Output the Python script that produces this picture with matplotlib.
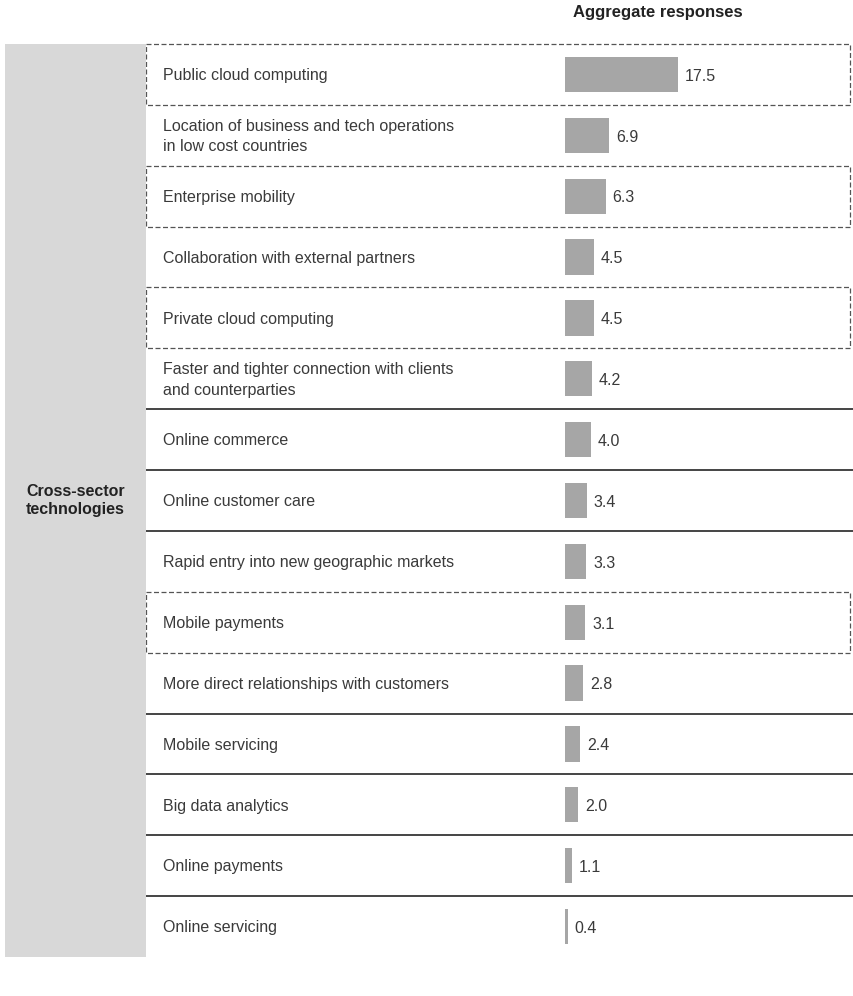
import matplotlib
matplotlib.use("Agg")
import matplotlib.pyplot as plt
import matplotlib.transforms as mtransforms
from matplotlib.patches import Rectangle

plt.rcParams['font.family'] = ['Liberation Sans', 'DejaVu Sans']

# data
categories = [
    "Public cloud computing",
    "Location of business and tech operations\nin low cost countries",
    "Enterprise mobility",
    "Collaboration with external partners",
    "Private cloud computing",
    "Faster and tighter connection with clients\nand counterparties",
    "Online commerce",
    "Online customer care",
    "Rapid entry into new geographic markets",
    "Mobile payments",
    "More direct relationships with customers",
    "Mobile servicing",
    "Big data analytics",
    "Online payments",
    "Online servicing",
]
values = [17.5, 6.9, 6.3, 4.5, 4.5, 4.2, 4.0, 3.4, 3.3, 3.1, 2.8, 2.4, 2.0, 1.1, 0.4]
highlighted = [0, 2, 4, 9]          # rows drawn inside dashed boxes
group_label = "Cross-sector\ntechnologies"
title = "Aggregate responses"

W, H = 854, 996
n = len(categories)

# layout (pixels)
top, bottom = 44, 957
panel_l, panel_r = 5, 146
bar_x0, right = 565, 850
px_per_unit = 6.44

fig = plt.figure(figsize=(W / 100, H / 100), dpi=100)
ax = fig.add_axes([bar_x0 / W, (H - bottom) / H, (right - bar_x0) / W, (bottom - top) / H])
ax.set_xlim(0, (right - bar_x0) / px_per_unit)
ax.set_ylim(n - 0.5, -0.5)
ax.axis('off')

trans = mtransforms.blended_transform_factory(fig.transFigure, ax.transData)

# grey group panel
fig.patches.append(Rectangle((panel_l / W, (H - bottom) / H), (panel_r - panel_l) / W,
                             (bottom - top) / H, transform=fig.transFigure,
                             facecolor='#d8d8d8', edgecolor='none', zorder=0))
fig.text((panel_l + panel_r) / 2 / W, 1 - ((top + bottom) / 2) / H, group_label,
         ha='center', va='center', fontsize=11.5, fontweight='bold', color='#222222',
         linespacing=1.25)

# solid separators between rows that are not next to a dashed box
for b in range(1, n):
    if (b - 1) in highlighted or b in highlighted or b in (2, 4):
        continue
    ax.plot([panel_r / W, 1], [b - 0.5, b - 0.5], transform=trans, color='#444444',
            lw=1.4, clip_on=False)

# dashed boxes
for i in highlighted:
    ax.add_patch(Rectangle((panel_r / W, i - 0.5), (right - panel_r) / W, 1.0,
                           transform=trans, fill=False, edgecolor='#555555',
                           lw=0.9, linestyle=(0, (4, 2)), clip_on=False))

# category labels
for i, c in enumerate(categories):
    ax.text(163 / W, i + 0.02, c, transform=trans, ha='left', va='center', fontsize=11.5,
            color='#3a3a3a', linespacing=1.45)

# bars
ax.barh(range(n), values, height=0.58, color='#a6a6a6', edgecolor='none')
for i, v in enumerate(values):
    ax.text(v + 7 / px_per_unit, i + 0.03, f"{v:.1f}", ha='left', va='center',
            fontsize=11.5, color='#3a3a3a')

fig.text(658 / W, 1 - 13 / H, title, ha='center', va='center', fontsize=12,
         fontweight='bold', color='#222222')

fig.savefig("out.png", dpi=100, facecolor='white')
